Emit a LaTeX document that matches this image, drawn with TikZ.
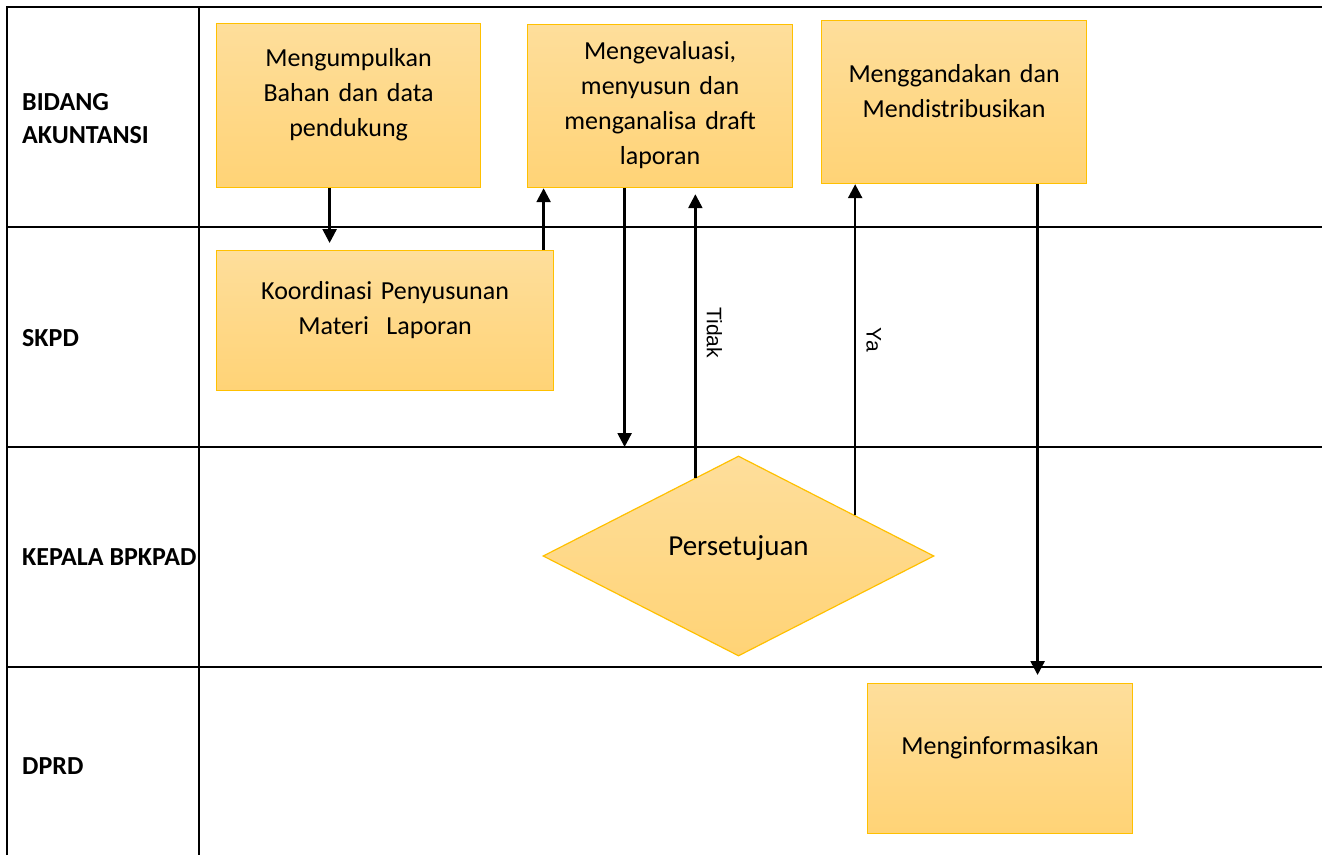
\documentclass[tikz,border=0pt]{standalone}
\usepackage{fontspec}
\setmainfont{Carlito}
\newfontfamily\arialfont{Liberation Sans}
\usetikzlibrary{shapes.geometric}
\usetikzlibrary{arrows.meta}
\usetikzlibrary{calc}

\definecolor{isiatas}{RGB}{254,222,155}
\definecolor{isibawah}{RGB}{255,211,118}
\definecolor{tepikuning}{RGB}{255,192,0}

\tikzset{
	proses/.style={shape=rectangle, draw=tepikuning, line width=1.2pt, top color=isiatas, bottom color=isibawah, anchor=north west, inner xsep=10pt, inner ysep=0pt, text width=245pt, align=center, font=\fontsize{26}{35}\selectfont, execute at end node={\par\vspace*{#1}}},
	proses/.default=22pt,
	keputusan/.style={shape=diamond, aspect=2, draw=tepikuning, line width=1.2pt, top color=isiatas, bottom color=isibawah, inner sep=0pt, minimum width=391pt, minimum height=200pt, text depth=20pt, font=\fontsize{29}{35}\selectfont},
	lajur/.style={anchor=west, align=left, inner sep=0pt, font=\fontsize{26}{33}\selectfont\bfseries},
	ket/.style={rotate=-90, anchor=south, inner sep=10pt, font=\arialfont\fontsize{21}{25}\selectfont},
	panah/.style={-{Triangle[length=14pt,width=14pt]}, line width=2.5pt},
	garistabel/.style={line width=2.8pt}
}

\begin{document}
\begin{tikzpicture}[x=1pt, y=1pt]
	\useasboundingbox (0,0) rectangle (1322,-855);

	% lajur
	\draw[garistabel] (7,-855) -- (7,-7) -- (1322,-7);
	\draw[garistabel] (199,-7) -- (199,-855);
	\foreach \y in {227,447,667} {
		\draw[garistabel] (7,-\y) -- (1322,-\y);
		\coordinate (batas\y) at (199,-\y);
	}

	\node (bidang) at (22,-118.5) [lajur] {BIDANG\\AKUNTANSI};
	\node (skpd) at (22,-338) [lajur] {SKPD};
	\begin{scope}
		\clip (0,0) rectangle (199,-855);
		\node (kepala) at (22,-557) [lajur] {KEPALA BPKPAD};
	\end{scope}
	\node (dprd) at (22,-766) [lajur] {DPRD};

	% langkah
	\node (kumpul) at (216,-23) [proses, minimum height=164pt, text width=244pt] {Mengumpulkan\\Bahan dan data\\pendukung};
	\node (evaluasi) at (527,-24) [proses=3pt, minimum height=163pt] {Mengevaluasi,\\menyusun dan\\menganalisa draft\\laporan};
	\node (gandakan) at (821,-20) [proses, minimum height=163pt] {Menggandakan dan\\Mendistribusikan};
	\node (koordinasi) at (216,-250) [proses, minimum height=140pt, text width=317pt] {Koordinasi Penyusunan\\Materi\ \ Laporan};
	\node (setuju) at (738.5,-556) [keputusan] {Persetujuan};
	\node (informasi) at (867,-683) [proses, minimum height=150pt] {Menginformasikan};

	\coordinate (tidak) at ($(setuju.north)!0.22!(setuju.west)$);
	\coordinate (ya) at ($(setuju.north)!0.595!(setuju.east)$);

	% alur
	\draw[panah, shorten >=7pt] ([xshift=-19pt]kumpul.south) -- ([xshift=-19pt]kumpul.south |- koordinasi.north);
	\draw[panah] ([xshift=158.5pt]koordinasi.north) -- ([xshift=158.5pt]koordinasi.north |- evaluasi.south);
	\draw[panah] ([xshift=-35.5pt]evaluasi.south) -- ([xshift=-35.5pt]evaluasi.south |- batas447);
	\draw[panah, shorten >=6pt] (tidak) -- (tidak |- evaluasi.south) node[ket, midway] {Tidak};
	\draw[panah] (ya) -- (ya |- gandakan.south) node[ket, pos=0.53] {Ya};
	\draw[panah, shorten >=8pt] ([xshift=83.5pt]gandakan.south) -- ([xshift=83.5pt]gandakan.south |- informasi.north);
\end{tikzpicture}
\end{document}
